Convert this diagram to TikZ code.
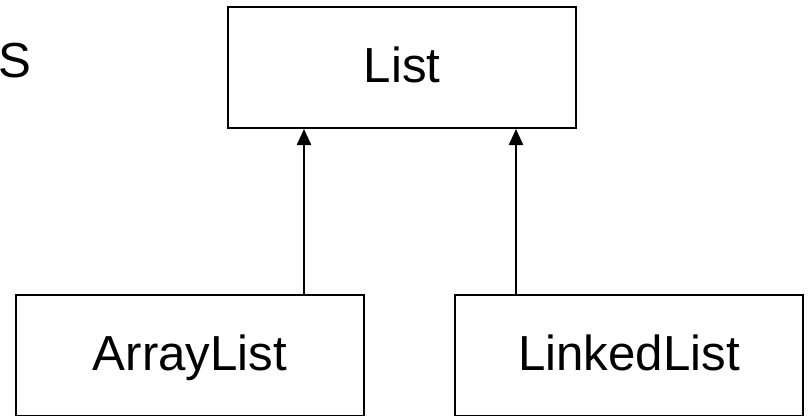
\documentclass[tikz,border=0pt]{standalone}
\usepackage{fontspec}
\setmainfont{Liberation Sans}
\usetikzlibrary{arrows.meta}
\begin{document}
\begin{tikzpicture}[x=0.025cm, y=-0.025cm,
  classbox/.style={draw, line width=1.5pt, minimum width=8.7cm, minimum height=3.025cm,
    inner sep=0pt, text height=26pt, text depth=4.6pt, font=\fontsize{35}{42}\selectfont},
  inherit/.style={line width=0.9pt, -{Triangle[length=0.4cm, width=0.36cm]}}]
  \useasboundingbox (0,0) rectangle (808,415);
  \clip (0,0) rectangle (808,415);
  % class boxes
  \node[classbox] (L)  at (402,67.5)  {List};
  \node[classbox] (AL) at (190,355.5) {ArrayList};
  \node[classbox] (LL) at (629,355.5) {LinkedList};
  % heading letter at the left edge
  \node[anchor=base west, inner sep=0pt, font=\fontsize{35}{42}\selectfont] (hd) at (-2,77) {S};
  % inheritance arrows
  \coordinate (c1) at (304,0);
  \coordinate (c2) at (516,0);
  \draw[inherit] (AL.north -| c1) -- (L.south -| c1);
  \draw[inherit] (LL.north -| c2) -- (L.south -| c2);
\end{tikzpicture}
\end{document}
